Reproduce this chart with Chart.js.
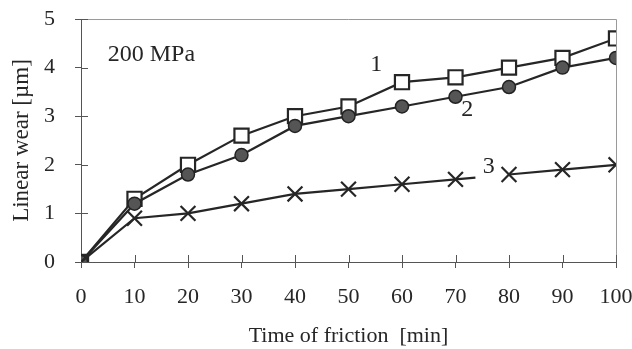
<!DOCTYPE html>
<html>
<head>
<meta charset="utf-8">
<script src="https://cdn.jsdelivr.net/npm/chart.js@4/dist/chart.umd.min.js"></script>
<style>
html,body{margin:0;padding:0;background:#fff;}
#wrap{width:632px;height:349px;position:relative;}
</style>
</head>
<body>
<div id="wrap"><canvas id="c"></canvas></div>
<script>
const times = [0, 10, 20, 30, 40, 50, 60, 70, 80, 90, 100];
const wear1 = [0, 1.3, 2.0, 2.6, 3.0, 3.2, 3.7, 3.8, 4.0, 4.2, 4.6];
const wear2 = [0, 1.2, 1.8, 2.2, 2.8, 3.0, 3.2, 3.4, 3.6, 4.0, 4.2];
const wear3 = [0, 0.9, 1.0, 1.2, 1.4, 1.5, 1.6, 1.7, 1.8, 1.9, 2.0];
const xTitle = 'Time of friction  [min]';
const yTitle = 'Linear wear [µm]';
const notes = [
  {text: '200 MPa', x: 5.0, y: 4.26, align: 'left'},
  {text: '1', x: 55.2, y: 4.05, align: 'center'},
  {text: '2', x: 72.2, y: 3.14, align: 'center'},
  {text: '3', x: 76.2, y: 1.97, align: 'center'}
];

const FONT = '"Liberation Serif", "Times New Roman", serif';
const INK = '#262626';

function pts(arr){ return times.map((t,i)=>({x:t, y:arr[i]})); }

const framePlugin = {
  id: 'frame',
  beforeDatasetsDraw(chart){
    const {ctx, chartArea:a, scales} = chart;
    ctx.save();
    ctx.strokeStyle = '#9a9a9a';
    ctx.lineWidth = 1;
    ctx.beginPath();
    ctx.moveTo(a.left, a.top + 0.5);
    ctx.lineTo(a.right + 0.5, a.top + 0.5);
    ctx.lineTo(a.right + 0.5, a.bottom);
    ctx.stroke();
    ctx.strokeStyle = '#555';
    ctx.beginPath();
    scales.x.ticks.forEach(t=>{
      const px = Math.round(scales.x.getPixelForValue(t.value)) + 0.5;
      ctx.moveTo(px, a.bottom); ctx.lineTo(px, a.bottom - 7);
    });
    scales.y.ticks.forEach(t=>{
      const py = Math.round(scales.y.getPixelForValue(t.value)) + 0.5;
      ctx.moveTo(a.left, py); ctx.lineTo(a.left + 7, py);
    });
    ctx.stroke();
    ctx.restore();
  },
  afterDatasetsDraw(chart){
    const {ctx, scales} = chart;
    ctx.save();
    ctx.fillStyle = INK;
    ctx.font = '24px ' + FONT;
    ctx.textBaseline = 'middle';
    notes.forEach(n=>{
      ctx.textAlign = n.align;
      ctx.fillText(n.text, scales.x.getPixelForValue(n.x), scales.y.getPixelForValue(n.y));
    });
    ctx.restore();
  }
};

new Chart(document.getElementById('c'), {
  type: 'line',
  data: {
    datasets: [
      {
        label: '3', data: pts(wear3), order: 0,
        borderColor: INK, borderWidth: 2.2,
        pointStyle: 'crossRot', pointRadius: 10.5, pointBorderWidth: 2.2,
        pointBorderColor: INK, pointBackgroundColor: INK,
        segment: { borderDash: ctx => ctx.p0DataIndex === 7 ? [20, 100] : undefined }
      },
      {
        label: '2', data: pts(wear2), order: 1,
        borderColor: INK, borderWidth: 2.2,
        pointStyle: 'circle', pointRadius: 6.5, pointBorderWidth: 1.5,
        pointBorderColor: '#222', pointBackgroundColor: '#555'
      },
      {
        label: '1', data: pts(wear1), order: 2,
        borderColor: INK, borderWidth: 2.2,
        pointStyle: 'rect', pointRadius: 10, pointBorderWidth: 2.2,
        pointBorderColor: INK, pointBackgroundColor: '#fff'
      }
    ]
  },
  options: {
    responsive: true,
    maintainAspectRatio: false,
    animation: false,
    layout: { padding: { top: 19, right: 16, left: 0, bottom: 0 } },
    plugins: { legend: { display: false }, tooltip: { enabled: false } },
    elements: { line: { tension: 0 } },
    scales: {
      x: {
        type: 'linear', min: 0, max: 100,
        ticks: { stepSize: 10, color: INK, font: { family: FONT, size: 22 }, padding: 16, maxRotation: 0 },
        grid: { drawOnChartArea: false, tickLength: 6, color: '#555' },
        border: { color: '#555', width: 1 },
        title: { display: true, text: xTitle, color: INK, font: { family: FONT, size: 22 }, padding: { top: 8, bottom: 0 } },
        afterFit(s){ s.height = 87; s.paddingLeft = 0; s.paddingRight = 0; }
      },
      y: {
        min: 0, max: 5,
        ticks: { stepSize: 1, color: INK, font: { family: FONT, size: 22 }, padding: 20 },
        grid: { drawOnChartArea: false, tickLength: 6, color: '#555' },
        border: { color: '#555', width: 1 },
        title: { display: true, text: yTitle, color: INK, font: { family: FONT, size: 23 }, padding: { top: 8, bottom: 0 } },
        afterFit(s){ s.width = 81; s.paddingTop = 0; s.paddingBottom = 0; }
      }
    }
  },
  plugins: [framePlugin]
});
</script>
</body>
</html>
